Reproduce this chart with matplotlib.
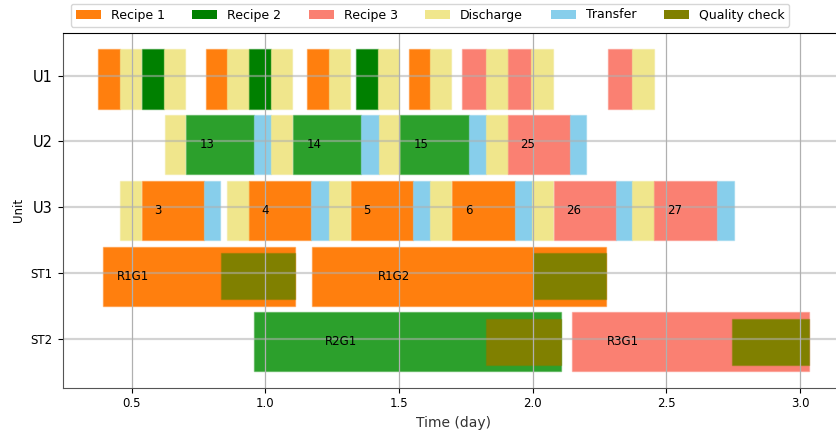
import matplotlib
matplotlib.use("Agg")
import matplotlib.pyplot as plt
from matplotlib.colors import to_rgba
from matplotlib.patches import Patch

# ---- schedule data (times in days) ----
units = ["U1", "U2", "U3", "ST1", "ST2"]

# processing units: start, end, task kind, batch label
u1_start = [0.374, 0.456, 0.537, 0.622, 0.776, 0.855, 0.937, 1.020, 1.157, 1.239,
            1.339, 1.422, 1.537, 1.615, 1.736, 1.826, 1.906, 1.995, 2.283, 2.373]
u1_end = [0.456, 0.535, 0.622, 0.700, 0.855, 0.937, 1.020, 1.101, 1.239, 1.316,
          1.422, 1.499, 1.615, 1.696, 1.826, 1.906, 1.995, 2.077, 2.373, 2.454]
u1_kind = ["R1", "D", "R2", "D", "R1", "D", "R2", "D", "R1", "D",
           "R2", "D", "R1", "D", "R3", "D", "R3", "D", "R3", "D"]
u1_label = [""] * 20

u2_start = [0.623, 0.703, 0.958, 1.020, 1.102, 1.359, 1.425, 1.502, 1.763, 1.826, 1.906, 2.140]
u2_end = [0.700, 0.958, 1.020, 1.101, 1.359, 1.425, 1.502, 1.763, 1.826, 1.906, 2.140, 2.200]
u2_kind = ["D", "R2b", "T", "D", "R2b", "T", "D", "R2b", "T", "D", "R3", "T"]
u2_label = ["", "13", "", "", "14", "", "", "15", "", "", "25", ""]

u3_start = [0.456, 0.537, 0.771, 0.856, 0.939, 1.170, 1.239, 1.319, 1.553,
            1.615, 1.699, 1.935, 1.997, 2.078, 2.312, 2.373, 2.455, 2.690]
u3_end = [0.535, 0.771, 0.831, 0.937, 1.170, 1.236, 1.316, 1.553, 1.615,
          1.696, 1.935, 1.997, 2.077, 2.312, 2.373, 2.454, 2.690, 2.753]
u3_kind = ["D", "R1", "T", "D", "R1", "T", "D", "R1", "T",
           "D", "R1", "T", "D", "R3", "T", "D", "R3", "T"]
u3_label = ["", "3", "", "", "4", "", "", "5", "", "", "6", "", "", "26", "", "", "27", ""]

# storage tanks: start, end, quality check start, kind, group label
st1_start = [0.391, 1.173]
st1_end = [1.112, 2.275]
st1_qc = [0.833, 2.002]
st1_kind = ["R1", "R1"]
st1_label = ["R1G1", "R1G2"]
st1_label_x = [0.504, 1.480]

st2_start = [0.959, 2.145]
st2_end = [2.105, 3.035]
st2_qc = [1.827, 2.745]
st2_kind = ["R2b", "R3"]
st2_label = ["R2G1", "R3G1"]
st2_label_x = [1.282, 2.338]

colors = {"R1": "#ff7f0e", "R2": "green", "R2b": "#2ca02c", "R3": "salmon",
          "D": "khaki", "T": "skyblue", "QC": "olive"}

legend_names = ["Recipe 1", "Recipe 2", "Recipe 3", "Discharge", "Transfer", "Quality check"]
legend_kinds = ["R1", "R2", "R3", "D", "T", "QC"]

# ---- figure ----
fig = plt.figure(figsize=(8.37, 4.38), dpi=100)
ax = fig.add_axes([62.5 / 837, 1 - 387.5 / 438, 782.5 / 837, (387.5 - 33.3) / 438])


def bars(spans, yr, kinds):
    face = [colors[x] for x in kinds]
    edges = [to_rgba(c, 0.45) for c in face]
    ax.broken_barh(spans, yr, facecolors=face, edgecolors=edges, linewidth=1.0)


proc_rows = [(u1_start, u1_end, u1_kind, u1_label),
             (u2_start, u2_end, u2_kind, u2_label),
             (u3_start, u3_end, u3_kind, u3_label)]
for row, (s, e, k, lab) in enumerate(proc_rows):
    bars([(a, b - a) for a, b in zip(s, e)], (row - 0.4, 0.9), k)
    for a, b, t in zip(s, e, lab):
        if t:
            ax.text(a + 0.2 * (b - a), row + 0.05, t, ha="left", va="center",
                    fontsize=8.5, color="black")

st_rows = [(st1_start, st1_end, st1_qc, st1_kind, st1_label, st1_label_x),
           (st2_start, st2_end, st2_qc, st2_kind, st2_label, st2_label_x)]
for j, (s, e, q, k, lab, lx) in enumerate(st_rows):
    row = 3 + j
    bars([(a, b - a) for a, b in zip(s, e)], (row - 0.4, 0.9), k)
    bars([(a, b - a) for a, b in zip(q, e)], (row - 0.3, 0.7), ["QC"] * len(q))
    for x, t in zip(lx, lab):
        ax.text(x, row + 0.05, t, ha="center", va="center", fontsize=8.5, color="black")

ax.set_yticks(range(len(units)))
ax.set_yticklabels(units)
for i, tl in enumerate(ax.get_yticklabels()):
    tl.set_fontsize(10.5 if i < 3 else 8.5)
ax.invert_yaxis()
ax.tick_params(axis="x", labelsize=8.5)
ax.set_xlabel("Time (day)", fontsize=10, color="#333333")
ax.set_ylabel("Unit", fontsize=8.5)

ax.grid(axis="x", color="#b0b0b0", linewidth=0.9)
ax.grid(axis="y", color="#b0b0b0", linewidth=1.6, alpha=0.55)

for sp in ["left", "bottom"]:
    ax.spines[sp].set_color("#555555")

handles = [Patch(facecolor=colors[k], label=n) for k, n in zip(legend_kinds, legend_names)]
fig.legend(handles=handles, loc="upper center", ncol=6, fontsize=9,
           bbox_to_anchor=(430 / 837, 1 - 1 / 438), frameon=True,
           borderaxespad=0.2, columnspacing=2.2, handletextpad=0.8)

fig.savefig("out.png", dpi=100)
